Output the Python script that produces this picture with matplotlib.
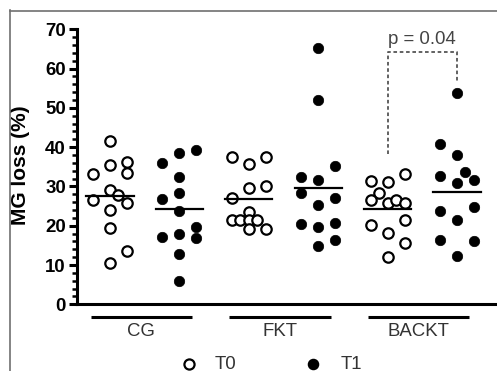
import numpy as np
import matplotlib
matplotlib.use('Agg')
import matplotlib.pyplot as plt
from matplotlib.lines import Line2D

# groups and time points
groups = ['CG', 'FKT', 'BACKT']
times = ['T0', 'T1']

# MG loss (%) values, one list per column
cg_t0 = [41.6, 35.5, 36.2, 33.3, 33.1, 29.2, 26.6, 27.9, 25.8, 24.0, 19.5, 13.6, 10.4]
cg_t1 = [38.5, 39.2, 36.0, 32.4, 28.2, 26.7, 23.8, 19.7, 16.8, 17.9, 17.0, 12.8, 6.0]
fkt_t0 = [37.5, 35.8, 37.5, 29.5, 30.2, 27.0, 21.4, 21.4, 23.5, 21.4, 21.4, 19.1, 19.1]
fkt_t1 = [65.3, 52.1, 35.2, 32.4, 31.6, 28.4, 27.0, 25.2, 20.5, 20.7, 19.6, 16.3, 14.9]
backt_t0 = [31.4, 31.0, 33.1, 28.2, 26.5, 25.8, 26.5, 25.8, 20.2, 21.4, 18.2, 15.7, 12.1]
backt_t1 = [53.8, 40.8, 38.0, 33.7, 32.6, 31.6, 30.9, 24.8, 23.8, 21.4, 16.3, 16.2, 12.3]

# horizontal lines in each column (as drawn)
col_means = [27.5, 24.2, 26.7, 29.7, 24.2, 28.6]

# scatter slot of each dot (-1 left, 0 centre, 1 right)
cg_t0_slot = [0, 0, 1, 1, -1, 0, -1, 0.5, 1, 0, 0, 1, 0]
cg_t1_slot = [0, 1, -1, 0, 0, -1, 0, 1, 1, 0, -1, 0, 0]
fkt_t0_slot = [-1, 0, 1, 0, 1, -1, -1, -0.5, 0, 0, 0.5, 0, 1]
fkt_t1_slot = [0, 0, 1, -1, 0, -1, 1, 0, -1, 1, 0, 1, 0]
backt_t0_slot = [-1, 0, 1, -0.5, -1, 0, 0.5, 1, -1, 1, 0, 1, 0]
backt_t1_slot = [0, -1, 0, 0.5, -1, 1, 0, 1, -1, 0, -1, 1, 0]

p_text = 'p = 0.04'

columns = [cg_t0, cg_t1, fkt_t0, fkt_t1, backt_t0, backt_t1]
slots = [cg_t0_slot, cg_t1_slot, fkt_t0_slot, fkt_t1_slot, backt_t0_slot, backt_t1_slot]

plt.rcParams['font.family'] = ['Liberation Sans', 'DejaVu Sans']

W, H = 497, 371
fig = plt.figure(figsize=(W / 100, H / 100), dpi=100)
ax = fig.add_axes([77 / W, (H - 304.3) / H, (495 - 77) / W, (304.3 - 29.2) / H])

slot_w = 0.245
for i, (vals, sl) in enumerate(zip(columns, slots)):
    x = i + np.array(sl) * slot_w
    if i % 2 == 0:
        ax.plot(x, vals, 'o', ms=7.5, mfc='white', mec='black', mew=1.6,
                ls='none', clip_on=False, zorder=3)
    else:
        ax.plot(x, vals, 'o', ms=7.5, mfc='black', mec='black', mew=0.5,
                ls='none', clip_on=False, zorder=3)
    ax.plot([i - 0.34, i + 0.34], [col_means[i], col_means[i]], color='black',
            lw=1.6, zorder=4)

ax.set_xlim(-0.475, 5.548)
ax.set_ylim(0, 70)
ax.set_yticks(np.arange(0, 71, 10))
ax.set_yticks(np.arange(0, 71, 2), minor=True)
ax.set_xticks([])
for s in ['top', 'right']:
    ax.spines[s].set_visible(False)
for s in ['left', 'bottom']:
    ax.spines[s].set_linewidth(2.2)
ax.tick_params(axis='y', which='major', length=6, width=2.2, labelsize=13.4, pad=2)
ax.tick_params(axis='y', which='minor', length=3.5, width=1.8)
for lab in ax.get_yticklabels():
    lab.set_fontweight('bold')
ax.set_ylabel('MG loss (%)', fontsize=15, fontweight='bold')
ax.yaxis.set_label_coords(-0.112, 0.506)

# group bars and labels under the axis
for k, g in enumerate(groups):
    c = 2 * k + 0.45
    ax.plot([c - 0.73, c + 0.73], [-3.15, -3.15], color='black', lw=2.2,
            clip_on=False, solid_capstyle='butt')
    ax.text(c, -7.0, g, ha='center', va='center', fontsize=13.4, color='#333333')

# legend row
leg_y = -15.2
ax.plot([1.145], [leg_y], 'o', ms=7.3, mfc='white', mec='black', mew=1.6, clip_on=False)
ax.text(1.515, leg_y, times[0], ha='left', va='center', fontsize=13.4, color='#333333')
ax.plot([2.93], [leg_y], 'o', ms=7.3, mfc='black', mec='black', clip_on=False)
ax.text(3.33, leg_y, times[1], ha='left', va='center', fontsize=13.4, color='#333333')

# significance bracket
ax.plot([4, 4, 5, 5], [38.2, 64.2, 64.2, 56.2], color='#555555', lw=1.3,
        ls=(0, (2, 1.5)), clip_on=False)
ax.text(4.49, 67.4, p_text, ha='center', va='center', fontsize=13.4, color='#444444')

# grey frame round the picture
fig.add_artist(Line2D([9.5 / W, 9.5 / W], [0, 1 - 10 / H], color='#707070', lw=1.2,
                      transform=fig.transFigure))
fig.add_artist(Line2D([9.5 / W, 1], [1 - 10.5 / H, 1 - 10.5 / H], color='#707070', lw=1.2,
                      transform=fig.transFigure))

fig.savefig('out.png', dpi=100)
